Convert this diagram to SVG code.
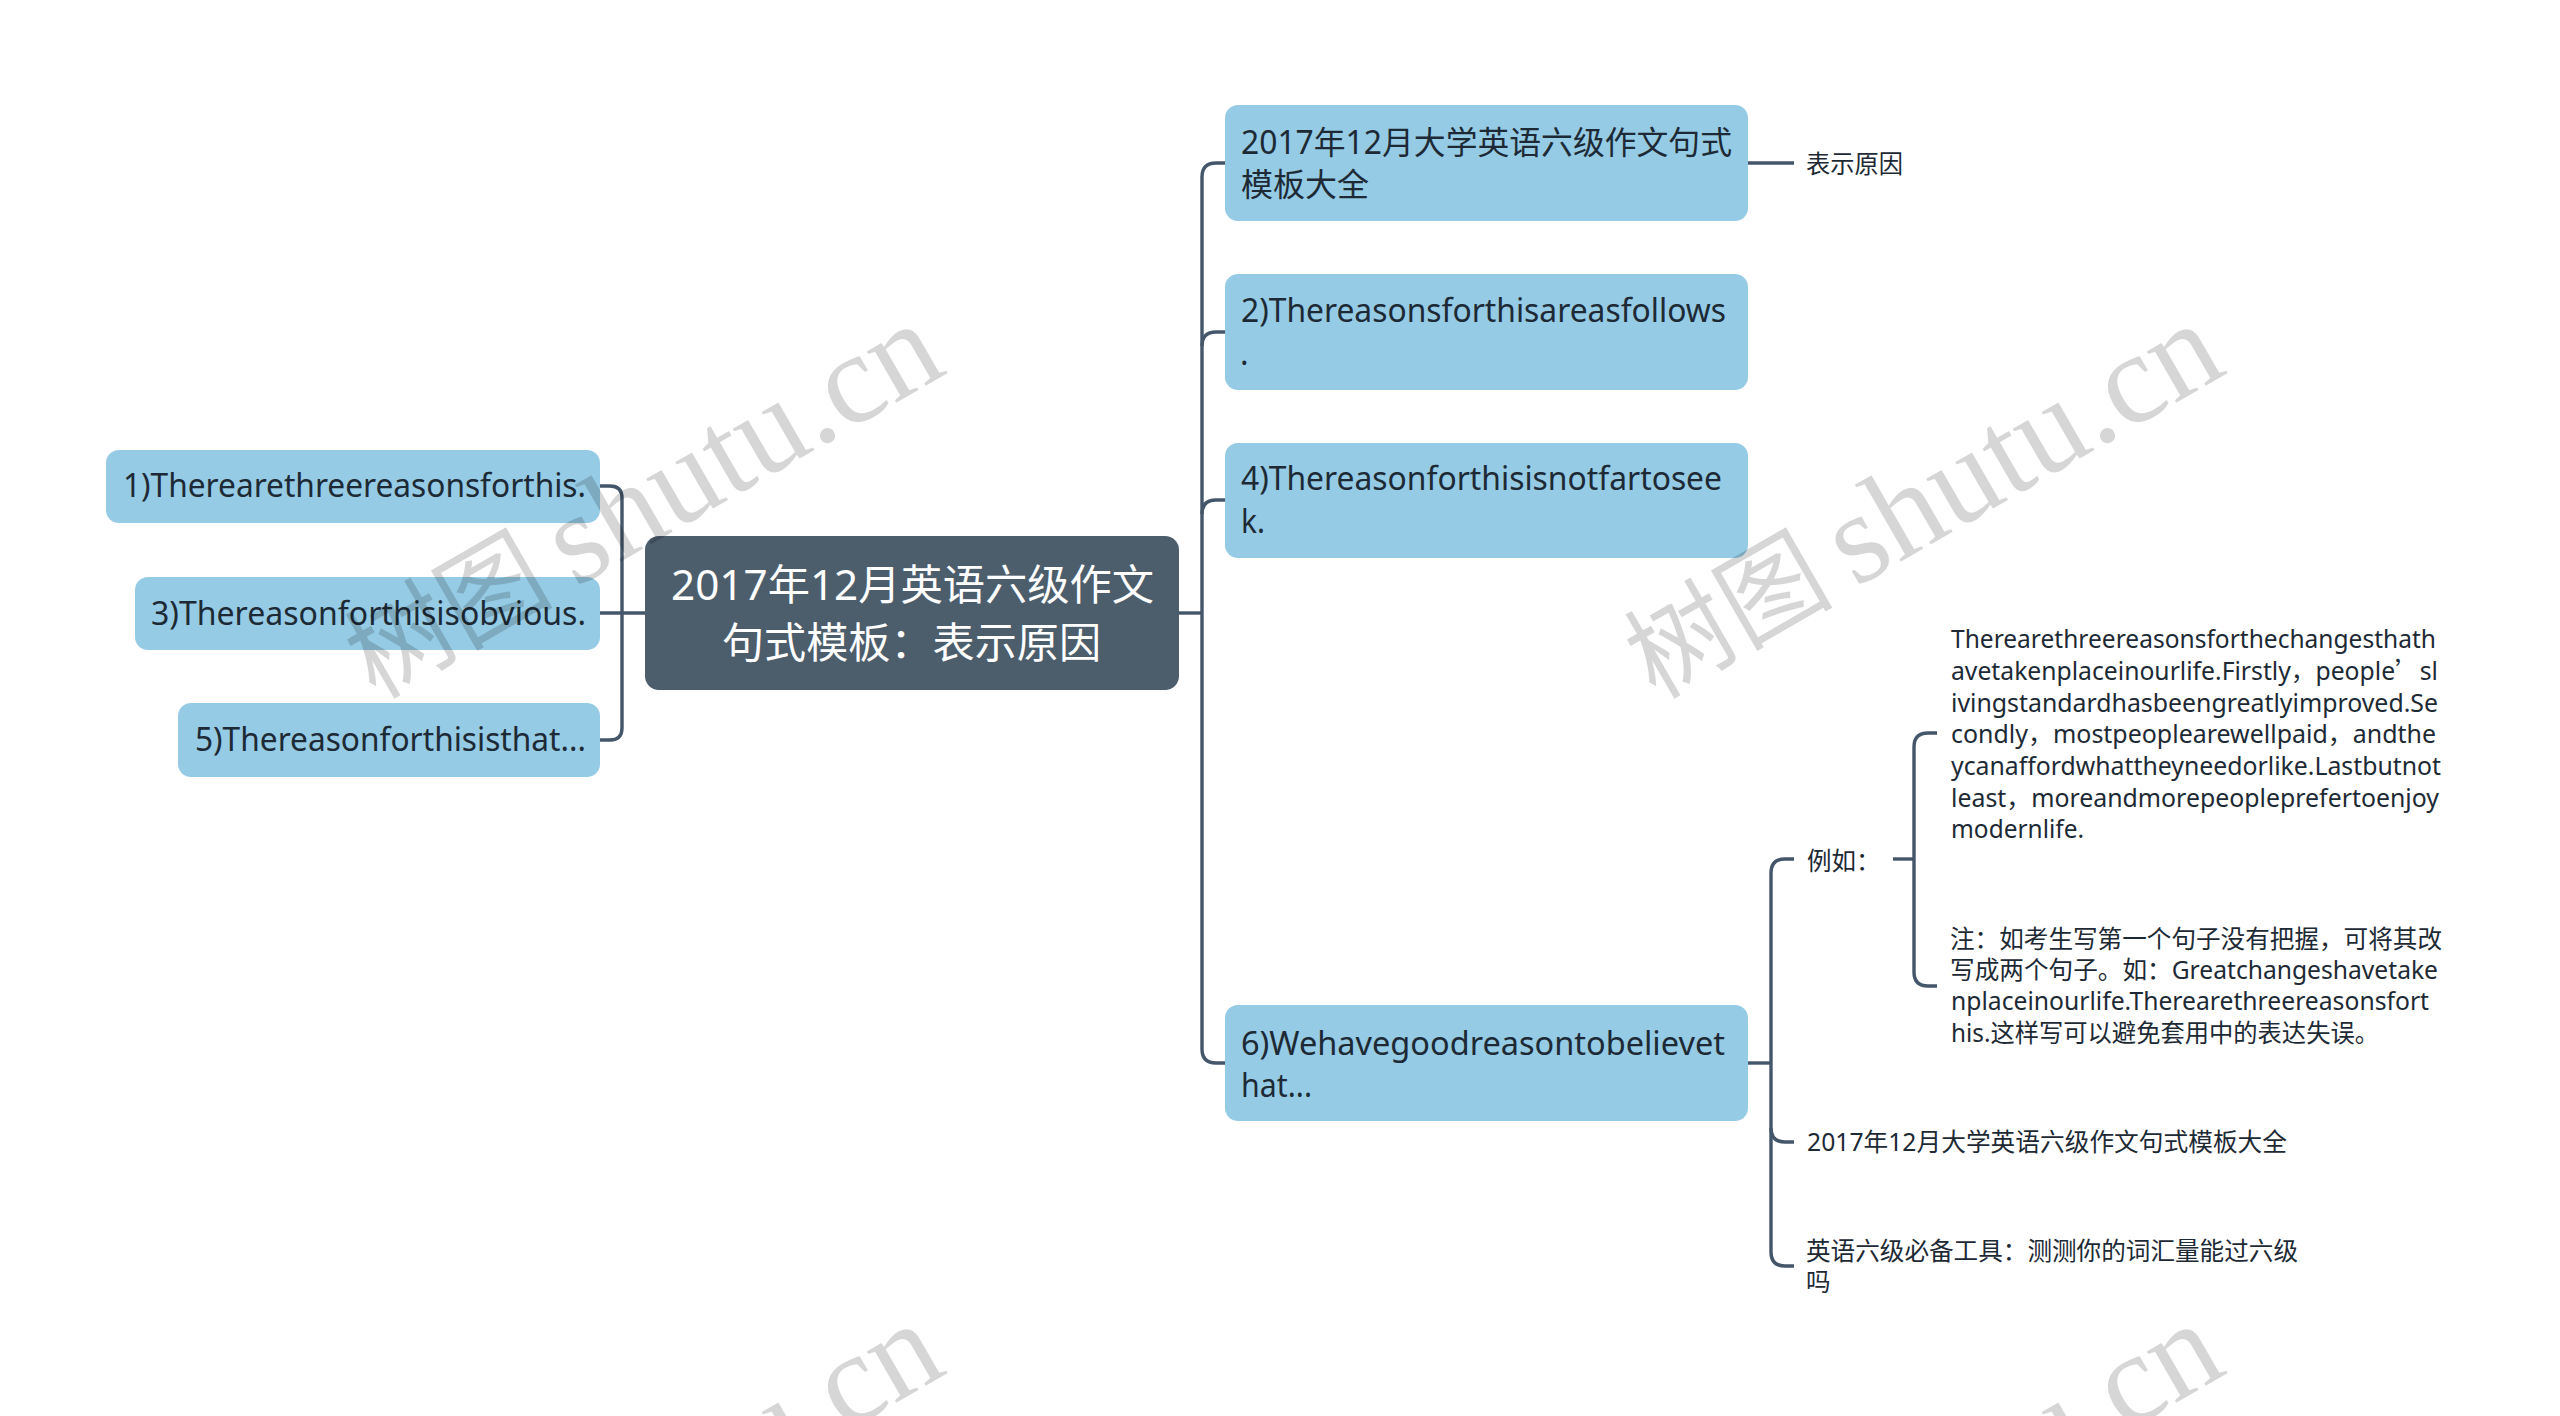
<svg xmlns="http://www.w3.org/2000/svg" width="2560" height="1416" viewBox="0 0 2560 1416">
<style>
text{font-family:"Noto Sans","Noto Sans CJK SC",sans-serif;fill:#1d2a35}
.n{fill:#95cbe4}
.r{fill:#4c5d6c}
.nt{font-size:32px}
.lt{font-size:24.5px}
.rt{font-size:42px;fill:#fff}
.c{fill:none;stroke:#44566a;stroke-width:3.4}
.w{font-family:"Liberation Serif","Noto Sans CJK SC",serif;font-size:129px;fill:#000;fill-opacity:.16}
.wc{font-size:106px}
.fw{font-family:"Noto Sans CJK SC",sans-serif}
</style>
<rect width="2560" height="1416" fill="#fff"/>
<g id="connectors" class="c">
<path d="M600 486H610Q622 486 622 498V728Q622 740 610 740H600"/>
<path d="M600 613H645"/>
<path d="M1179 613H1202"/>
<path d="M1225 163H1216Q1202 163 1202 177V1049Q1202 1063 1216 1063H1225"/>
<path d="M1225 332H1216Q1202 332 1202 346"/>
<path d="M1225 500H1216Q1202 500 1202 514"/>
<path d="M1748 163H1794"/>
<path d="M1748 1063H1771"/>
<path d="M1794 859H1785Q1771 859 1771 873V1252Q1771 1266 1785 1266H1794"/>
<path d="M1771 1128Q1771 1142 1785 1142H1794"/>
<path d="M1893 859H1914"/>
<path d="M1937 733H1928Q1914 733 1914 747V972Q1914 986 1928 986H1937"/>
</g>
<g id="node-root"><rect class="r" x="645" y="536" width="534" height="154" rx="14"/>
<text class="rt" x="671" y="600" textLength="483" lengthAdjust="spacingAndGlyphs">2017年12月英语六级作文</text>
<text class="rt" x="722" y="658" textLength="379" lengthAdjust="spacingAndGlyphs">句式模板：表示原因</text></g>
<g id="node-1"><rect class="n" x="106" y="450" width="494" height="73" rx="13"/><text class="nt" x="123" y="497" textLength="463" lengthAdjust="spacingAndGlyphs">1)Therearethreereasonsforthis.</text></g>
<g id="node-3"><rect class="n" x="135" y="577" width="465" height="73" rx="13"/><text class="nt" x="151" y="624.5" textLength="435" lengthAdjust="spacingAndGlyphs">3)Thereasonforthisisobvious.</text></g>
<g id="node-5"><rect class="n" x="178" y="703" width="422" height="74" rx="13"/><text class="nt" x="195" y="751" textLength="391" lengthAdjust="spacingAndGlyphs">5)Thereasonforthisisthat...</text></g>
<g id="node-a"><rect class="n" x="1225" y="105" width="523" height="116" rx="13"/>
<text class="nt" x="1241" y="153.5" textLength="491" lengthAdjust="spacingAndGlyphs">2017年12月大学英语六级作文句式</text>
<text class="nt" x="1241" y="195.5">模板大全</text></g>
<g id="node-2"><rect class="n" x="1225" y="274" width="523" height="116" rx="13"/>
<text class="nt" x="1241" y="322" textLength="485" lengthAdjust="spacingAndGlyphs">2)Thereasonsforthisareasfollows</text>
<text class="nt" x="1240" y="365">.</text></g>
<g id="node-4"><rect class="n" x="1225" y="443" width="523" height="115" rx="13"/>
<text class="nt" x="1241" y="490" textLength="481" lengthAdjust="spacingAndGlyphs">4)Thereasonforthisisnotfartosee</text>
<text class="nt" x="1241" y="533" textLength="24" lengthAdjust="spacingAndGlyphs">k.</text></g>
<g id="node-6"><rect class="n" x="1225" y="1005" width="523" height="116" rx="13"/>
<text class="nt" x="1241" y="1054.5" textLength="484" lengthAdjust="spacingAndGlyphs">6)Wehavegoodreasontobelievet</text>
<text class="nt" x="1241" y="1097" textLength="71" lengthAdjust="spacingAndGlyphs">hat...</text></g>
<g id="leaf-reason"><text class="lt" x="1806" y="173" textLength="97" lengthAdjust="spacingAndGlyphs">表示原因</text></g>
<g id="leaf-example"><text class="lt" x="1807" y="870">例如：</text></g>
<g id="leaf-para1">
<text class="lt" x="1951" y="648" textLength="485" lengthAdjust="spacingAndGlyphs">Therearethreereasonsforthechangesthath</text>
<text class="lt" x="1951" y="680" textLength="487" lengthAdjust="spacingAndGlyphs">avetakenplaceinourlife.Firstly，people<tspan class="fw">’</tspan>sl</text>
<text class="lt" x="1951" y="712" textLength="487" lengthAdjust="spacingAndGlyphs">ivingstandardhasbeengreatlyimproved.Se</text>
<text class="lt" x="1951" y="743" textLength="485" lengthAdjust="spacingAndGlyphs">condly，mostpeoplearewellpaid，andthe</text>
<text class="lt" x="1951" y="775" textLength="490" lengthAdjust="spacingAndGlyphs">ycanaffordwhattheyneedorlike.Lastbutnot</text>
<text class="lt" x="1951" y="807" textLength="488" lengthAdjust="spacingAndGlyphs">least，moreandmorepeopleprefertoenjoy</text>
<text class="lt" x="1951" y="838" textLength="133" lengthAdjust="spacingAndGlyphs">modernlife.</text>
</g>
<g id="leaf-para2">
<text class="lt" x="1950" y="948" textLength="492" lengthAdjust="spacingAndGlyphs">注：如考生写第一个句子没有把握，可将其改</text>
<text class="lt" x="1950" y="979" textLength="488" lengthAdjust="spacingAndGlyphs">写成两个句子。如：Greatchangeshavetake</text>
<text class="lt" x="1951" y="1010" textLength="478" lengthAdjust="spacingAndGlyphs">nplaceinourlife.Therearethreereasonsfort</text>
<text class="lt" x="1951" y="1042" textLength="428" lengthAdjust="spacingAndGlyphs">his.这样写可以避免套用中的表达失误。</text>
</g>
<g id="leaf-template"><text class="lt" x="1807" y="1151" textLength="480" lengthAdjust="spacingAndGlyphs">2017年12月大学英语六级作文句式模板大全</text></g>
<g id="leaf-tool"><text class="lt" x="1806" y="1260" textLength="492" lengthAdjust="spacingAndGlyphs">英语六级必备工具：测测你的词汇量能过六级</text>
<text class="lt" x="1806" y="1291">吗</text></g>
<g id="watermarks">
<g transform="translate(372 702) rotate(-30)"><text class="w wc" x="4" textLength="208" lengthAdjust="spacingAndGlyphs">树图</text><text class="w" x="233" y="3" textLength="432" lengthAdjust="spacingAndGlyphs">shutu.cn</text></g>
<g transform="translate(1652 702) rotate(-30)"><text class="w wc" x="4" textLength="208" lengthAdjust="spacingAndGlyphs">树图</text><text class="w" x="233" y="3" textLength="432" lengthAdjust="spacingAndGlyphs">shutu.cn</text></g>
<g transform="translate(372 1702) rotate(-30)"><text class="w" x="233" y="3" textLength="432" lengthAdjust="spacingAndGlyphs">shutu.cn</text></g>
<g transform="translate(1652 1702) rotate(-30)"><text class="w" x="233" y="3" textLength="432" lengthAdjust="spacingAndGlyphs">shutu.cn</text></g>
</g>
</svg>
